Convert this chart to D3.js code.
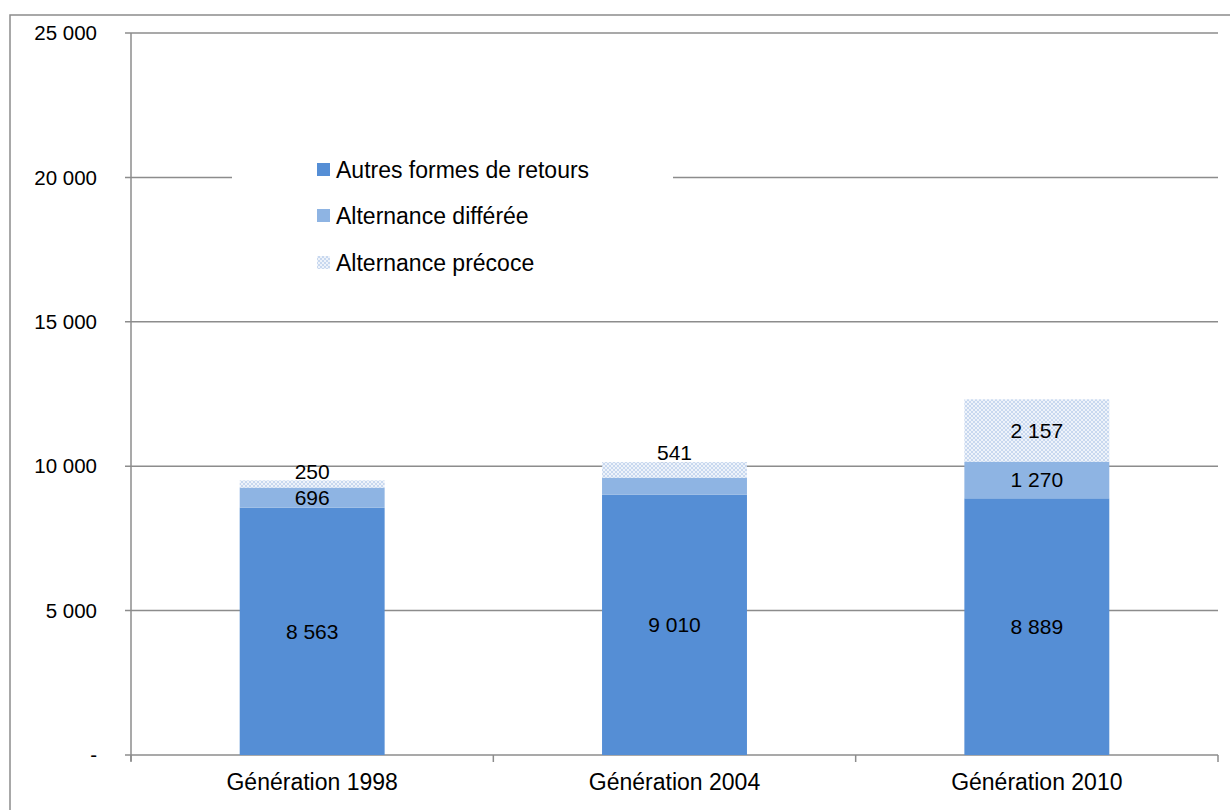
<!DOCTYPE html>
<html>
<head>
<meta charset="utf-8">
<script src="https://d3js.org/d3.v7.min.js"></script>
<style>
  body { margin: 0; background: #fff; }
  text { font-family: "Liberation Sans", Arial, sans-serif; fill: #000; }
</style>
</head>
<body>
<svg id="chart" width="1230" height="810"></svg>
<script>
// data
var generations = ["Génération 1998", "Génération 2004", "Génération 2010"];
var autres      = [8563, 9010, 8889];
var differee    = [696, 593, 1270];
var precoce     = [250, 541, 2157];
var seriesNames = ["Autres formes de retours", "Alternance différée", "Alternance précoce"];
var yTicks = [0, 5000, 10000, 15000, 20000, 25000];

var svg = d3.select("#chart");
var margin = {top: 33, left: 131, right: 12, bottom: 55};
var width = 1218 - margin.left,
    height = 755 - margin.top;

// hatched fill for the precoce series
var defs = svg.append("defs");
var pat = defs.append("pattern")
    .attr("id", "mesh")
    .attr("patternUnits", "userSpaceOnUse")
    .attr("width", 4).attr("height", 4);
pat.append("rect").attr("width", 4).attr("height", 4).attr("fill", "#c8d8ef");
pat.append("rect").attr("x", 0).attr("y", 0).attr("width", 2).attr("height", 2).attr("fill", "#eef3fa");
pat.append("rect").attr("x", 2).attr("y", 2).attr("width", 2).attr("height", 2).attr("fill", "#eef3fa");

// outer frame
svg.append("rect")
    .attr("x", 10).attr("y", 15)
    .attr("width", 1240).attr("height", 820)
    .attr("fill", "none")
    .attr("stroke", "#8c8c8c")
    .attr("stroke-width", 1.5);

var g = svg.append("g")
    .attr("transform", "translate(" + margin.left + "," + margin.top + ")");

var x = d3.scaleBand()
    .domain(generations)
    .range([0, width])
    .paddingInner(0.6)
    .paddingOuter(0.3);

var y = d3.scaleLinear()
    .domain([0, 25000])
    .range([height, 0]);

var fmt = function(v) {
  return v === 0 ? "-" : d3.format(",")(v).replace(/,/g, " ");
};

// gridlines
g.append("g").selectAll("line")
  .data(yTicks)
  .enter().append("line")
    .attr("x1", -6).attr("x2", width)
    .attr("y1", function(d) { return y(d); })
    .attr("y2", function(d) { return y(d); })
    .attr("stroke", "#8c8c8c")
    .attr("stroke-width", 1.5);

// y labels
g.append("g").selectAll("text")
  .data(yTicks)
  .enter().append("text")
    .attr("x", -34)
    .attr("y", function(d) { return y(d); })
    .attr("dy", "0.35em")
    .attr("text-anchor", "end")
    .style("font-size", "20.5px")
    .text(fmt);

// y axis line
g.append("line")
    .attr("x1", 0).attr("x2", 0)
    .attr("y1", 0).attr("y2", height + 6)
    .attr("stroke", "#8c8c8c").attr("stroke-width", 1.5);

// x axis ticks at band edges
var edges = generations.map(function(d, i) { return i * width / generations.length; });
edges.push(width);
g.append("g").selectAll("line")
  .data(edges)
  .enter().append("line")
    .attr("x1", function(d) { return d; })
    .attr("x2", function(d) { return d; })
    .attr("y1", height).attr("y2", height + 7)
    .attr("stroke", "#8c8c8c").attr("stroke-width", 1.5);

// stacked bars
var rows = generations.map(function(gen, i) {
  return {gen: gen, autres: autres[i], differee: differee[i], precoce: precoce[i]};
});
var keys = ["autres", "differee", "precoce"];
var fills = {autres: "#558ed5", differee: "#8eb4e3", precoce: "url(#mesh)"};
var stack = d3.stack().keys(keys)(rows);

stack.forEach(function(layer) {
  var k = layer.key;
  g.append("g").selectAll("rect")
    .data(layer)
    .enter().append("rect")
      .attr("x", function(d) { return x(d.data.gen); })
      .attr("width", x.bandwidth())
      .attr("y", function(d) { return y(d[1]); })
      .attr("height", function(d) { return y(d[0]) - y(d[1]); })
      .attr("fill", fills[k]);

  g.append("g").selectAll("text")
    .data(layer)
    .enter().append("text")
      .attr("x", function(d) { return x(d.data.gen) + x.bandwidth() / 2; })
      .attr("y", function(d) {
        var h = y(d[0]) - y(d[1]);
        // small segments: label pushed above the bar
        if (h < 18) return y(d[1]) - 9;
        return (y(d[0]) + y(d[1])) / 2;
      })
      .attr("dy", "0.35em")
      .attr("text-anchor", "middle")
      .style("font-size", "21px")
      .text(function(d) { return fmt(d.data[k]); });
});

// category labels
g.append("g").selectAll("text")
  .data(generations)
  .enter().append("text")
    .attr("x", function(d) { return x(d) + x.bandwidth() / 2; })
    .attr("y", height + 35)
    .attr("text-anchor", "middle")
    .style("font-size", "23px")
    .text(function(d) { return d; });

// legend
var legend = svg.append("g");
legend.append("rect")
    .attr("x", 232).attr("y", 140)
    .attr("width", 441).attr("height", 150)
    .attr("fill", "#fff");
var legendFills = ["#558ed5", "#8eb4e3", "url(#mesh)"];
var legendY = [170, 216, 263];
seriesNames.forEach(function(name, i) {
  legend.append("rect")
      .attr("x", 317).attr("y", legendY[i] - 7)
      .attr("width", 13).attr("height", 13)
      .attr("fill", legendFills[i]);
  legend.append("text")
      .attr("x", 336).attr("y", legendY[i])
      .attr("dy", "0.35em")
      .style("font-size", "23px")
      .text(name);
});
</script>
</body>
</html>
